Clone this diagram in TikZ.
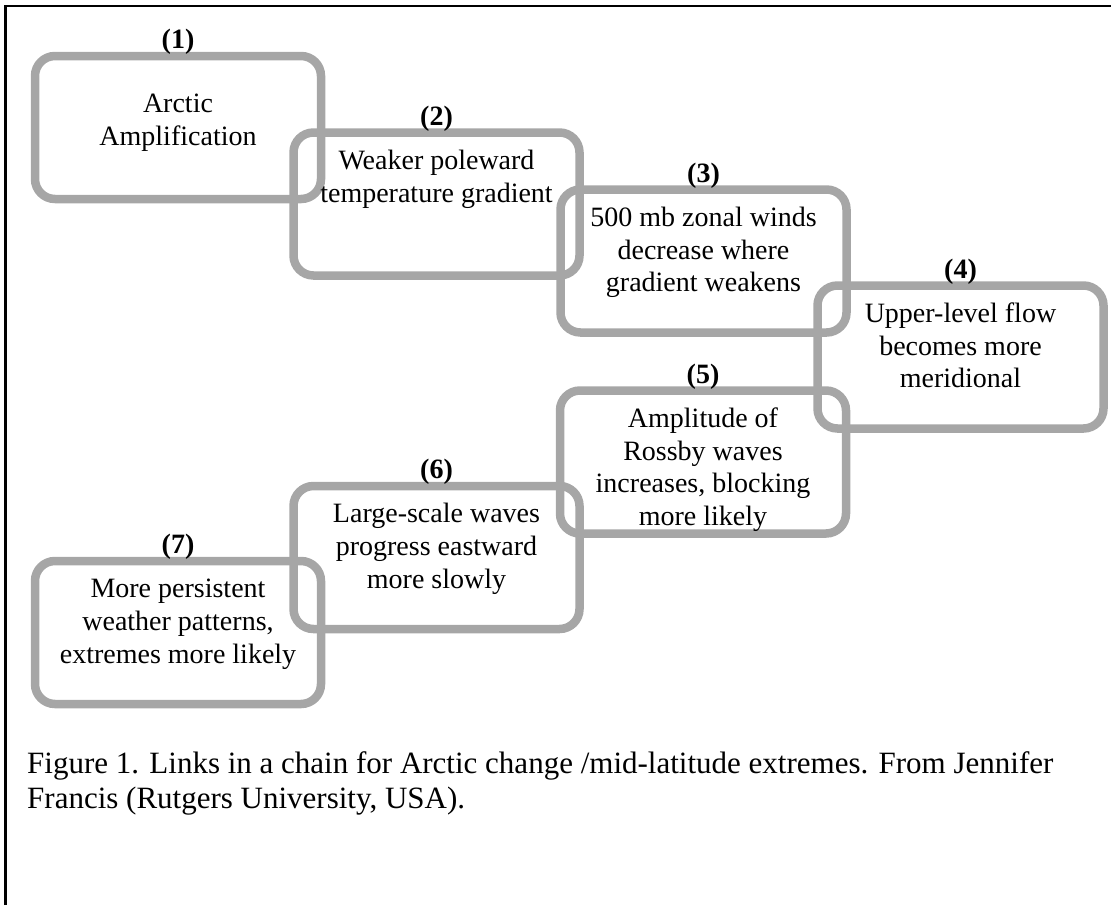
\documentclass[tikz,border=0pt]{standalone}
\usepackage{fontspec}
\setmainfont{Liberation Serif}
\definecolor{boxgray}{RGB}{166,166,166}
\tikzset{
  chainbox/.style={draw=boxgray, line width=8.5pt, rounded corners=20pt,
    minimum width=286pt, minimum height=143pt, inner sep=0pt, rectangle},
  boxtext/.style={anchor=north, align=center, inner sep=0pt,
    font=\fontsize{28}{32.7}\selectfont},
  steplabel/.style={anchor=base, inner sep=0pt,
    font=\fontsize{28}{32.7}\selectfont\bfseries},
  captext/.style={anchor=north west, align=left, inner sep=0pt,
    font=\fontsize{31}{35}\selectfont},
  frameline/.style={draw=black, line width=2.5pt}
}
\begin{document}
\begin{tikzpicture}[x=1pt, y=-1pt]
\useasboundingbox (0,0) rectangle (1111,905);
% frame (top and left edges)
\coordinate (fbl) at (5.5,905);
\coordinate (ftl) at (5.5,6);
\coordinate (ftr) at (1111,6);
\draw[frameline] (fbl) -- (ftl) -- (ftr);
% boxes
\node[chainbox] (b1) at (178,127.5) {};
\node[chainbox] (b2) at (436.5,204) {};
\node[chainbox] (b3) at (703.5,261) {};
\node[chainbox] (b4) at (960.5,357) {};
\node[chainbox] (b5) at (703,462) {};
\node[chainbox] (b6) at (436.5,557.5) {};
\node[chainbox] (b7) at (178,632.5) {};
% step labels
\node[steplabel] (l1) at ([yshift=3pt]b1.north) {(1)};
\node[steplabel] (l2) at ([yshift=3pt]b2.north) {(2)};
\node[steplabel] (l3) at ([yshift=3pt]b3.north) {(3)};
\node[steplabel] (l4) at ([yshift=3pt]b4.north) {(4)};
\node[steplabel] (l5) at ([yshift=3pt]b5.north) {(5)};
\node[steplabel] (l6) at ([yshift=3pt]b6.north) {(6)};
\node[steplabel] (l7) at ([yshift=3pt]b7.north) {(7)};
% box texts
\node[boxtext] (t1) at ([yshift=-38pt]b1.north) {\strut Arctic\\Amplification};
\node[boxtext] (t2) at ([yshift=-18pt]b2.north) {\strut Weaker poleward\\temperature gradient};
\node[boxtext] (t3) at ([yshift=-18pt]b3.north) {\strut 500 mb zonal winds\\decrease where\\gradient weakens};
\node[boxtext] (t4) at ([yshift=-18pt]b4.north) {\strut Upper-level flow\\becomes more\\meridional};
\node[boxtext] (t5) at ([yshift=-18pt]b5.north) {\strut Amplitude of\\Rossby waves\\increases, blocking\\more likely};
\node[boxtext] (t6) at ([yshift=-18pt]b6.north) {\strut Large-scale waves\\progress eastward\\more slowly};
\node[boxtext] (t7) at ([yshift=-18pt]b7.north) {\strut More persistent\\weather patterns,\\extremes more likely};
% caption
\node[captext] (cap) at (27,748.5) {\strut Figure 1. Links in a chain for Arctic change /mid-latitude extremes. From Jennifer\\Francis (Rutgers University, USA).};
\end{tikzpicture}
\end{document}
